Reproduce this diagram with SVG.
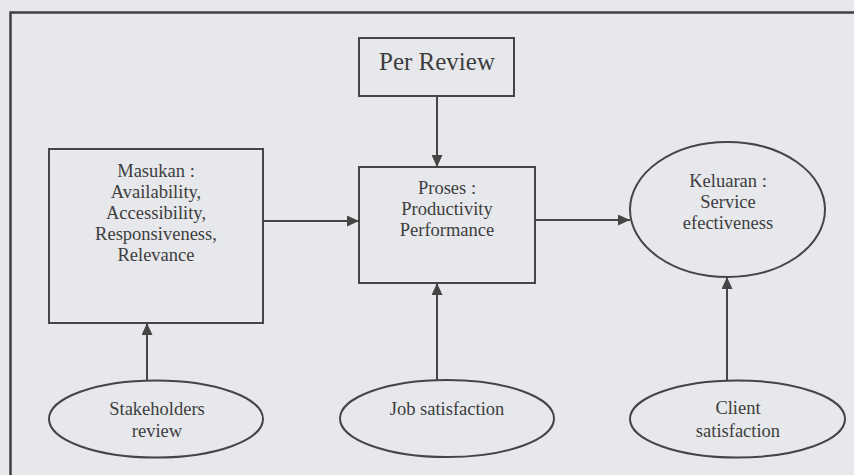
<svg xmlns="http://www.w3.org/2000/svg" width="854" height="475" viewBox="0 0 854 475">
  <style>
    .bg { fill: #e7e8ec; }
    .shape { fill: none; stroke: #454545; stroke-width: 2; }
    .edge { fill: none; stroke: #454545; stroke-width: 2; }
    .t { font-family: "Liberation Serif", "Times New Roman", serif; fill: #3d3d3d; text-anchor: middle; font-size: 18.5px; }
    .big { font-size: 25px; }
  </style>
  <defs>
    <marker id="arrow" markerUnits="userSpaceOnUse" markerWidth="12" markerHeight="11" refX="12" refY="5.5" orient="auto">
      <path d="M0,0 L12,5.5 L0,11 z" fill="#454545"/>
    </marker>
  </defs>
  <rect class="bg" x="0" y="0" width="854" height="475"/>
  <g id="frame">
    <path d="M10.5,475 L10.5,12.5 L854,12.5" fill="none" stroke="#3f3f44" stroke-width="2.5"/>
  </g>

  <g id="connectors">
    <path class="edge" d="M437,96 L437,167" marker-end="url(#arrow)"/>
    <path class="edge" d="M263,221 L359,221" marker-end="url(#arrow)"/>
    <path class="edge" d="M535,220 L630,220" marker-end="url(#arrow)"/>
    <path class="edge" d="M147,381 L147,323" marker-end="url(#arrow)"/>
    <path class="edge" d="M437,380 L437,283" marker-end="url(#arrow)"/>
    <path class="edge" d="M727,380 L727,277" marker-end="url(#arrow)"/>
  </g>

  <g id="per-review">
    <rect class="shape" x="359" y="38" width="155" height="58"/>
    <text class="t big" x="437" y="70">Per Review</text>
  </g>

  <g id="masukan">
    <rect class="shape" x="49" y="149" width="214" height="174"/>
    <text class="t" x="156" y="177">Masukan :</text>
    <text class="t" x="156" y="198">Availability,</text>
    <text class="t" x="156" y="219">Accessibility,</text>
    <text class="t" x="156" y="240">Responsiveness,</text>
    <text class="t" x="156" y="261">Relevance</text>
  </g>

  <g id="proses">
    <rect class="shape" x="359" y="167" width="176" height="116"/>
    <text class="t" x="447" y="194">Proses :</text>
    <text class="t" x="447" y="215">Productivity</text>
    <text class="t" x="447" y="236">Performance</text>
  </g>

  <g id="keluaran">
    <ellipse class="shape" cx="727.5" cy="209.5" rx="97.5" ry="67.5"/>
    <text class="t" x="728" y="187">Keluaran :</text>
    <text class="t" x="728" y="208">Service</text>
    <text class="t" x="728" y="229">efectiveness</text>
  </g>

  <g id="stakeholders">
    <ellipse class="shape" cx="156" cy="419" rx="107" ry="38.5"/>
    <text class="t" x="157" y="415">Stakeholders</text>
    <text class="t" x="157" y="437">review</text>
  </g>

  <g id="job-satisfaction">
    <ellipse class="shape" cx="447" cy="418.5" rx="107" ry="38.5"/>
    <text class="t" x="447" y="415">Job satisfaction</text>
  </g>

  <g id="client-satisfaction">
    <ellipse class="shape" cx="737.5" cy="419" rx="107.5" ry="38.5"/>
    <text class="t" x="738" y="414">Client</text>
    <text class="t" x="738" y="437">satisfaction</text>
  </g>
</svg>
